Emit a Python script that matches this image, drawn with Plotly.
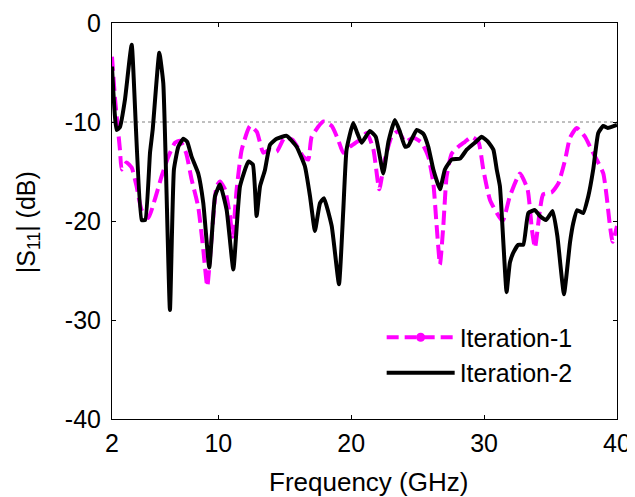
import plotly.graph_objects as go

# Iteration-1 (magenta dashed)
freq_it1 = [2.0, 2.23, 2.6, 2.73, 3.1, 3.48, 3.85, 4.23, 4.73, 5.23, 5.73, 6.24, 6.74, 7.12,
            7.57, 7.99, 8.49, 8.87, 9.17, 9.5, 9.87, 10.13, 10.5, 10.88, 11.07, 11.38, 11.76,
            12.39, 12.9, 13.39, 13.89, 14.39, 14.98, 15.6, 16.39, 16.77, 17.02, 17.9, 18.53,
            19.02, 19.4, 19.9, 20.66, 21.16, 21.66, 22.11, 22.53, 23.04, 23.54, 24.05, 24.68,
            25.3, 25.8, 26.18, 26.43, 26.68, 26.93, 27.18, 27.56, 28.06, 28.56, 29.06, 29.57,
            29.94, 30.45, 31.39, 31.94, 32.7, 33.27, 33.6, 33.83, 34.2, 34.45, 35.09, 35.59,
            36.1, 36.46, 36.97, 37.6, 38.08, 38.59, 38.97, 39.22, 39.47, 39.67, 40.0]
s11_it1 = [-3.4, -7.7, -12.8, -14.8, -14.1, -14.6, -16.5, -18.9, -19.7, -17.8, -15.5, -13.5,
           -12.1, -11.9, -13.1, -15.8, -18.6, -22.9, -26.6, -21.6, -16.5, -16.0, -16.8, -19.5,
           -21.6, -16.8, -12.8, -10.4, -11.0, -13.1, -12.8, -13.0, -11.6, -11.8, -13.5, -13.8,
           -11.5, -9.95, -10.4, -11.8, -13.1, -12.5, -11.8, -11.1, -12.7, -16.8, -13.8, -11.5,
           -10.9, -12.0, -11.6, -12.1, -13.5, -16.2, -20.5, -24.4, -20.5, -15.5, -13.2, -12.5,
           -12.0, -11.5, -12.0, -14.8, -17.9, -20.0, -17.5, -15.2, -16.8, -20.9, -22.7, -18.9,
           -17.3, -17.1, -16.2, -13.8, -11.6, -10.6, -11.5, -12.8, -14.1, -15.2, -17.5, -20.5,
           -22.1, -20.5]

# Iteration-2 (black solid)
freq_it2 = [2.0, 2.35, 2.6, 2.98, 3.48, 4.23, 4.5, 4.86, 5.06, 5.56, 5.86, 6.36, 6.66, 6.99,
            7.37, 7.66, 7.99, 8.49, 8.87, 9.32, 9.75, 10.13, 10.63, 11.13, 11.63, 12.26, 12.6,
            12.88, 13.14, 13.5, 13.89, 14.39, 15.14, 15.89, 16.52, 16.9, 17.27, 17.65, 17.95,
            18.53, 19.08, 19.4, 19.65, 20.15, 20.45, 20.78, 21.4, 21.85, 22.41, 22.8, 23.29,
            23.67, 24.05, 24.3, 24.93, 25.43, 25.8, 26.18, 26.68, 27.05, 27.56, 28.19, 28.69,
            29.3, 29.82, 30.3, 30.7, 30.95, 31.19, 31.45, 31.69, 31.94, 32.2, 32.57, 32.95,
            33.33, 33.83, 34.2, 34.66, 35.16, 35.51, 36.01, 36.46, 36.71, 37.0, 37.45, 37.84,
            38.21, 38.59, 38.97, 39.3, 40.0]
s11_it2 = [-4.4, -10.8, -10.5, -7.7, -2.2, -19.9, -19.9, -13.1, -10.8, -3.0, -6.1, -29.0,
           -14.8, -12.5, -11.7, -12.0, -13.5, -15.2, -18.2, -24.7, -17.5, -16.3, -18.9, -24.9,
           -16.5, -14.0, -14.3, -19.5, -16.5, -14.9, -12.3, -11.7, -11.4, -12.5, -14.5, -17.5,
           -21.0, -18.2, -17.7, -20.5, -26.4, -19.0, -12.8, -10.1, -11.1, -12.1, -10.9, -11.5,
           -15.2, -12.0, -9.8, -11.0, -12.5, -12.4, -10.8, -11.2, -12.5, -14.8, -16.8, -14.8,
           -13.8, -13.7, -12.8, -12.1, -11.5, -12.0, -12.8, -14.8, -16.5, -22.2, -27.2, -24.2,
           -23.2, -22.4, -22.4, -19.2, -18.9, -19.5, -19.9, -19.0, -21.5, -27.4, -22.2, -20.2,
           -18.9, -19.2, -17.5, -14.8, -11.1, -10.4, -10.6, -10.3]

x_ticks = [2, 10, 20, 30, 40]
x_ticktext = ["2", "10", "20", "30", "40"]
y_ticks = [0, -10, -20, -30, -40]
y_ticktext = ["0", "-10", "-20", "-30", "-40"]
ref_level = -10

MAGENTA = "#FF00FF"
FONT = "Liberation Sans, Arial, sans-serif"

fig = go.Figure()

fig.add_trace(go.Scatter(
    x=[x_ticks[0], x_ticks[-1]], y=[ref_level, ref_level], mode="lines",
    line=dict(color="#808080", width=1, dash="dot"), showlegend=False, hoverinfo="skip"))

fig.add_trace(go.Scatter(
    x=freq_it1, y=s11_it1, mode="lines", name="Iteration-1", showlegend=False,
    line=dict(color=MAGENTA, width=4, dash="14px,6px", shape="spline", smoothing=0.5)))

fig.add_trace(go.Scatter(
    x=freq_it2, y=s11_it2, mode="lines", name="Iteration-2", showlegend=False,
    line=dict(color="black", width=4, shape="spline", smoothing=0.4)))

# legend entries
fig.add_trace(go.Scatter(
    x=[None], y=[None], mode="lines+markers", name="Iteration-1",
    line=dict(color=MAGENTA, width=4, dash="12px,6px"),
    marker=dict(color=MAGENTA, size=9, symbol="circle")))
fig.add_trace(go.Scatter(
    x=[None], y=[None], mode="lines", name="Iteration-2",
    line=dict(color="black", width=4)))

axis_common = dict(
    showgrid=False, zeroline=False, showline=True, linecolor="black", linewidth=1,
    mirror="allticks", ticks="inside", ticklen=4, tickcolor="black", automargin=False,
    tickfont=dict(family=FONT, size=25, color="black"),
)

fig.update_layout(
    width=627, height=489,
    margin=dict(l=104, r=18, t=15, b=78, autoexpand=False),
    paper_bgcolor="white", plot_bgcolor="white",
    font=dict(family=FONT, color="black"),
    xaxis=dict(range=[2, 40], tickvals=x_ticks, ticktext=x_ticktext,
               ticklabelstandoff=2, **axis_common),
    yaxis=dict(range=[-40, 0], tickvals=y_ticks, ticktext=y_ticktext,
               ticklabelstandoff=5, **axis_common),
    legend=dict(x=0.534, y=0.264, xanchor="left", yanchor="top",
                bgcolor="rgba(0,0,0,0)", font=dict(family=FONT, size=25, color="black"),
                tracegroupgap=0, itemwidth=68),
    showlegend=True,
    annotations=[
        dict(text="Frequency (GHz)", xref="paper", yref="paper", x=0.507, y=0,
             xanchor="center", yanchor="middle", yshift=-63, showarrow=False,
             font=dict(family=FONT, size=26, color="black")),
        dict(text="|S<sub>11</sub>| (dB)", xref="paper", yref="paper", x=0, y=0.497,
             xanchor="center", yanchor="middle", xshift=-84, textangle=-90,
             showarrow=False, font=dict(family=FONT, size=25, color="black")),
    ],
)

fig.write_html("out.html")
